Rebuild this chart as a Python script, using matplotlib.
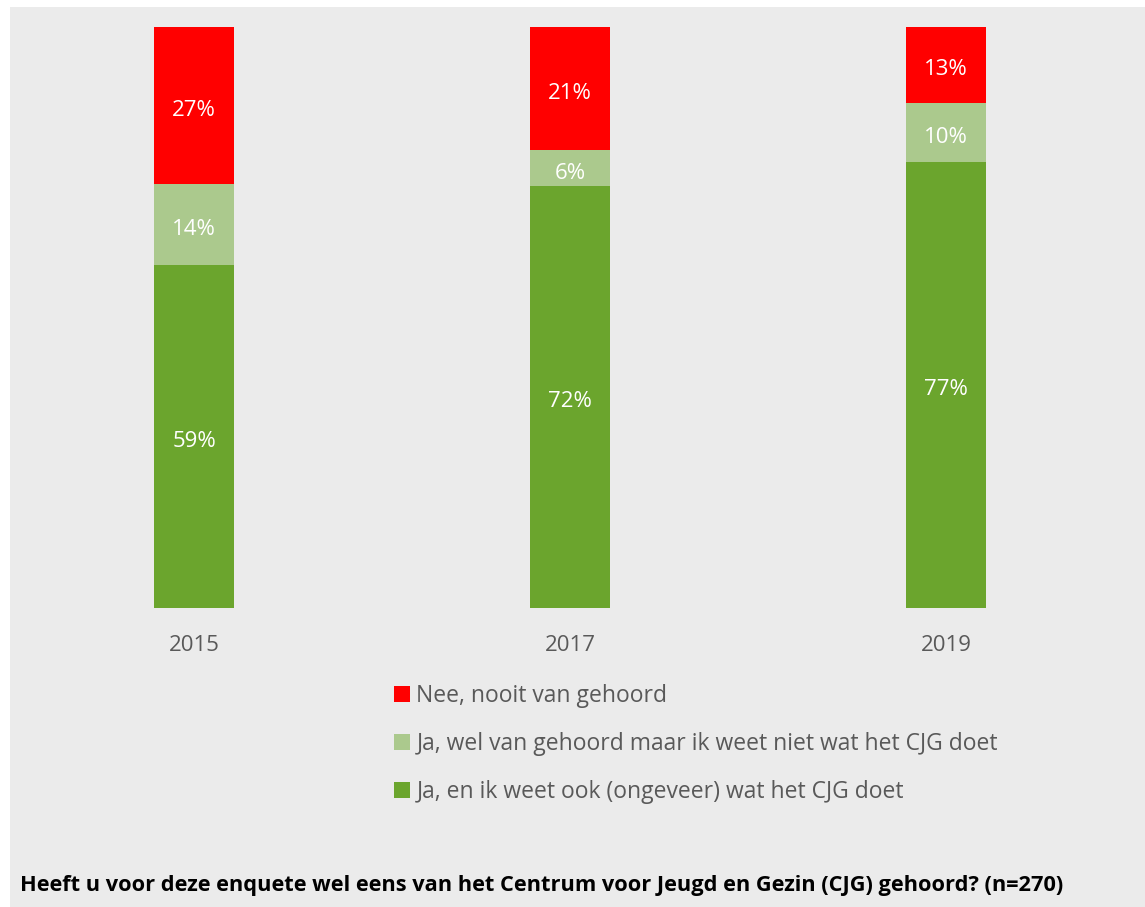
import matplotlib
matplotlib.use("Agg")
import matplotlib.pyplot as plt
from matplotlib.patches import Rectangle
import numpy as np

years = ["2015", "2017", "2019"]
series_names = [
    "Nee, nooit van gehoord",
    "Ja, wel van gehoord maar ik weet niet wat het CJG doet",
    "Ja, en ik weet ook (ongeveer) wat het CJG doet",
]
ja_weet = [59.0, 72.6, 76.8]
ja_niet = [14.0, 6.2, 10.2]
nee = [27.0, 21.2, 13.0]
labels_ja_weet = ["59%", "72%", "77%"]
labels_ja_niet = ["14%", "6%", "10%"]
labels_nee = ["27%", "21%", "13%"]
title = "Heeft u voor deze enquete wel eens van het Centrum voor Jeugd en Gezin (CJG) gehoord? (n=270)"

c_red = "#FF0000"
c_light = "#ABC98D"
c_green = "#6BA52D"
bg = "#EBEBEB"
txt = "#595959"
font = ["Open Sans", "DejaVu Sans"]

W, H = 1145, 907
fig = plt.figure(figsize=(W / 100, H / 100), dpi=100)
fig.patch.set_facecolor("white")
fig.patches.append(Rectangle((10 / W, -0.01), 1 - 10 / W + 0.01, 1.01 - 7 / H,
                             transform=fig.transFigure, facecolor=bg,
                             edgecolor="none", zorder=-5))

ax = fig.add_axes([6 / W, (H - 608) / H, (1134 - 6) / W, (608 - 27) / H])
ax.set_zorder(2)
ax.set_facecolor("none")
x = np.arange(len(years))
bw = 80 / 376
b1 = ax.bar(x, ja_weet, bw, color=c_green, label=series_names[2])
b2 = ax.bar(x, ja_niet, bw, bottom=ja_weet, color=c_light, label=series_names[1])
bot3 = np.array(ja_weet) + np.array(ja_niet)
b3 = ax.bar(x, nee, bw, bottom=bot3, color=c_red, label=series_names[0])
for bars, labs in ((b1, labels_ja_weet), (b2, labels_ja_niet), (b3, labels_nee)):
    texts = ax.bar_label(bars, labels=labs, label_type="center", color="white",
                         fontsize=16, family=font)
    for t in texts:
        t.xyann = (0, -3.5)

ax.set_xlim(-0.5, 2.5)
ax.set_ylim(0, 100)
ax.set_xticks(x)
ax.set_xticklabels(years, fontsize=16, color=txt, family=font)
ax.tick_params(axis="x", length=0, pad=19.5)
ax.set_yticks([])
for s in ax.spines.values():
    s.set_visible(False)

handles = [b3, b2, b1]
leg = fig.legend(handles, series_names, loc="upper left",
                 bbox_to_anchor=(394 / W, 1 - 684 / H), frameon=False,
                 prop={"family": font, "size": 16.5}, labelcolor=txt,
                 handlelength=0.68, handleheight=0.68, handletextpad=0.3,
                 labelspacing=1.05, borderaxespad=0, borderpad=0)

fig.text(20 / W, 1 - 886 / H, title, fontsize=15.7, fontweight="bold",
         color="black", family=font, va="center", ha="left")

fig.savefig("out.png", dpi=100, facecolor=fig.get_facecolor())
